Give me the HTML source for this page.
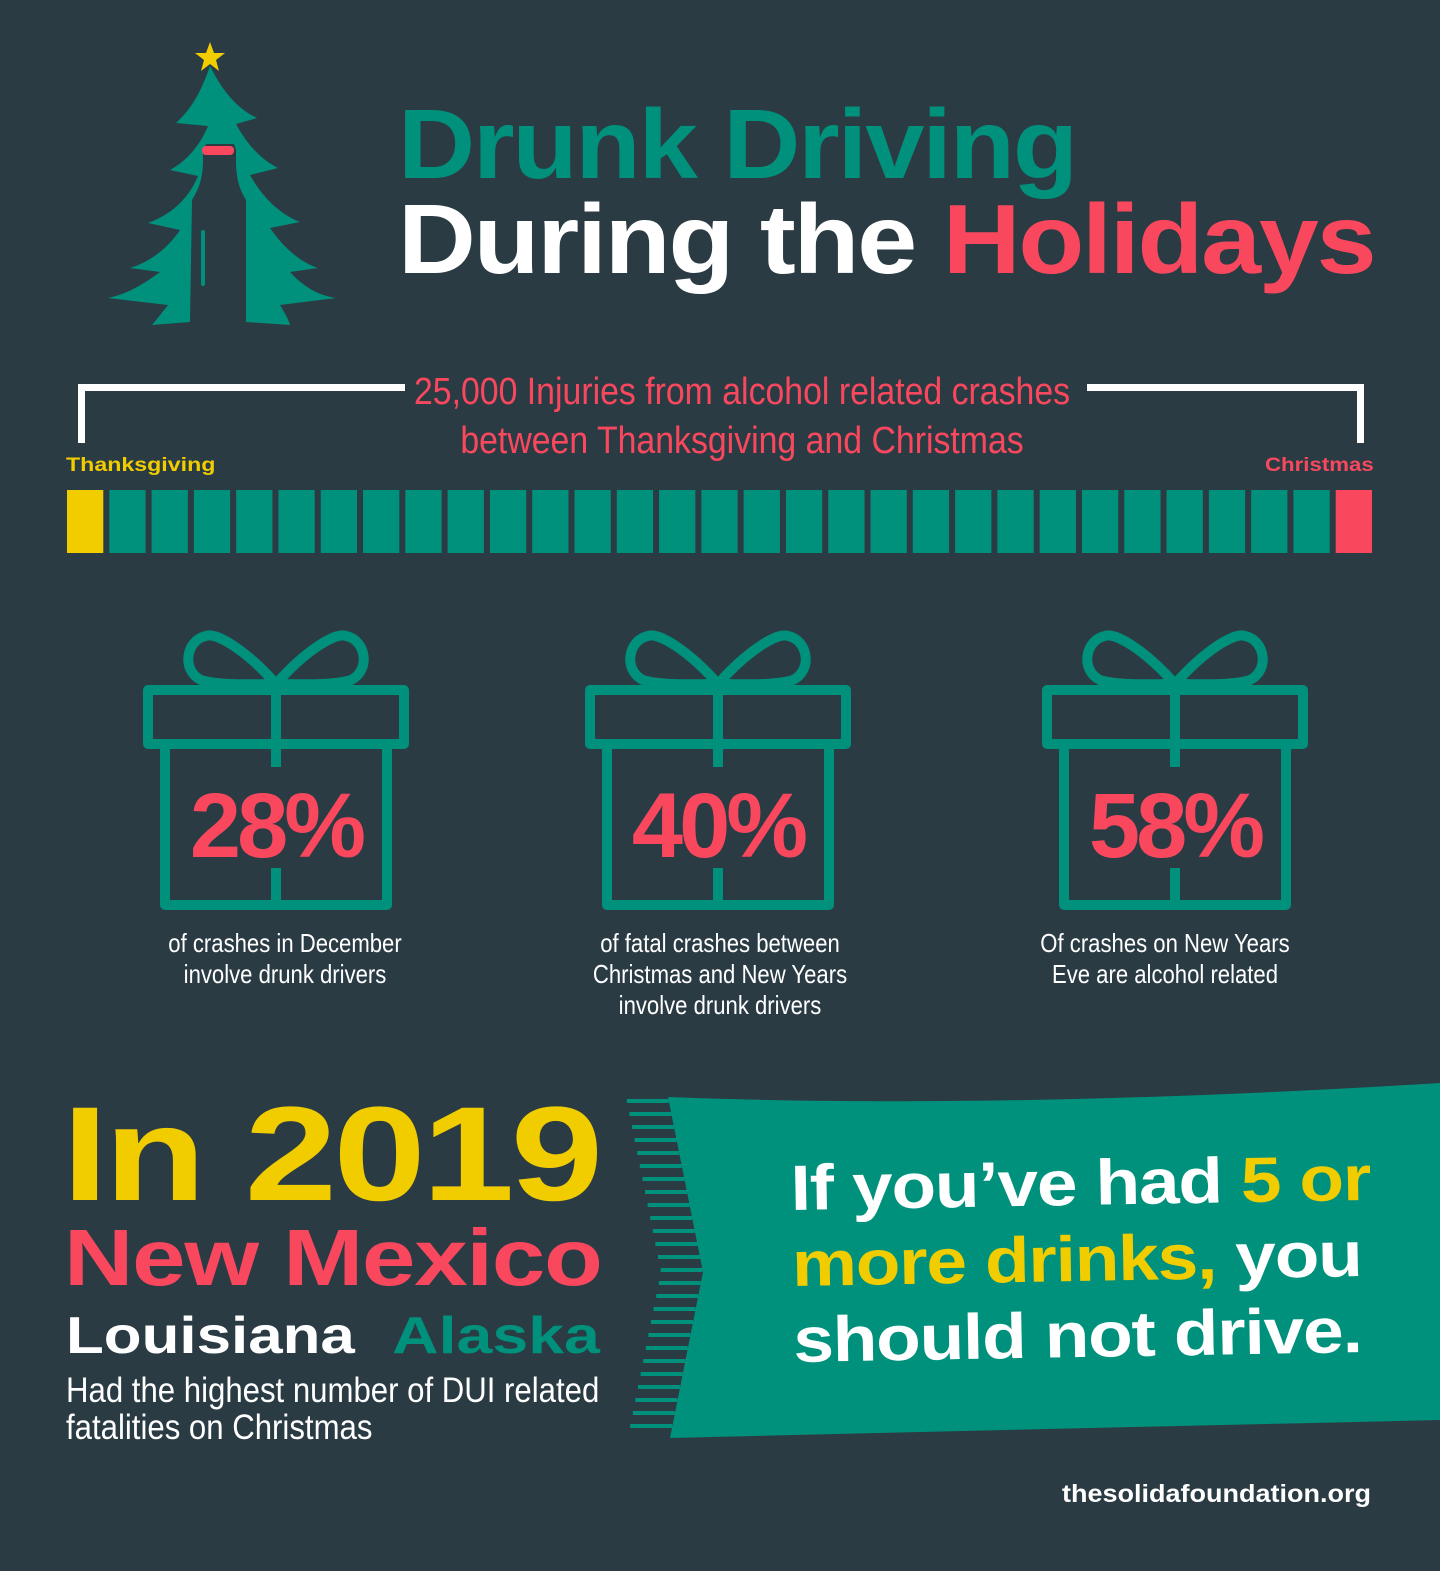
<!DOCTYPE html>
<html><head><meta charset="utf-8"><style>
html,body{margin:0;padding:0}
body{width:1440px;height:1571px;background:#2a3b44;position:relative;overflow:hidden;font-family:"Liberation Sans",sans-serif}
.t{position:absolute;white-space:nowrap;line-height:1;transform-origin:left top}
.h{font-weight:900;font-family:"Liberation Sans",sans-serif}
.n{font-family:"Liberation Sans",sans-serif;color:#fff}
</style></head><body>
<svg style="position:absolute;left:0;top:0" width="400" height="340">
<polygon points="210,42 214,53 225,53 216,60 219,71 210,64 201,71 204,60 195,53 206,53" fill="#f1cd00"/>
<path d="M210,66 C222,90 236,108 257,118 L236,124 C248,146 262,160 278,168 L250,175 C264,200 282,215 300,222 L270,228 C284,248 300,262 318,268 L290,272 C302,285 316,295 336,298 L280,305 C284,312 288,318 290,325 L246,322 L246,200 C240,190 236,180 236,160 L236,150 L234,144 L206,144 L203,150 L203,160 C203,180 198,190 192,200 L190,322 L152,325 C158,318 164,310 168,305 L108,298 C128,294 145,283 160,272 L130,268 C150,262 168,248 180,230 L148,223 C170,215 188,200 198,176 L170,170 C188,160 200,145 208,126 L176,123 C190,110 200,95 210,66 Z" fill="#00917c"/>
<rect x="202" y="146" width="32" height="9" rx="4" fill="#f9485e"/>
<rect x="201" y="230" width="4" height="56" rx="2" fill="#00917c"/>
</svg>
<div class="t h" style="left:398px;top:95px;font-size:98px;color:#00917c;letter-spacing:-2px;transform:scaleX(1.09)">Drunk Driving</div>
<div class="t h" style="left:398px;top:190px;font-size:98px;color:#fff;letter-spacing:-2px;transform:scaleX(1.1)">During the <span style="color:#f9485e">Holidays</span></div>

<div style="position:absolute;left:78px;top:384px;width:320px;height:52px;border-top:7px solid #fff;border-left:7px solid #fff"></div>
<div style="position:absolute;left:1087px;top:384px;width:270px;height:52px;border-top:7px solid #fff;border-right:7px solid #fff"></div>
<div class="t n" style="left:342px;width:800px;top:368px;text-align:center;font-size:38px;line-height:49px;color:#f9485e;transform:scaleX(0.89);transform-origin:center top">25,000 Injuries from alcohol related crashes<br>between Thanksgiving and Christmas</div>
<div class="t h" style="left:66px;top:456px;font-size:19px;color:#f1cd00;transform:scaleX(1.22)">Thanksgiving</div>
<div class="t h" style="left:1265px;top:456px;font-size:19px;color:#f9485e;transform:scaleX(1.17)">Christmas</div>
<svg id="bars" style="position:absolute;left:0;top:0" width="1440" height="600"></svg>

<svg id="gifts" style="position:absolute;left:0;top:0" width="1440" height="930"></svg>
<div class="t n" style="left:135px;width:300px;top:928px;text-align:center;font-size:26px;line-height:31px;transform:scaleX(0.85);transform-origin:center top">of crashes in December<br>involve drunk drivers</div>
<div class="t n" style="left:570px;width:300px;top:928px;text-align:center;font-size:26px;line-height:31px;transform:scaleX(0.85);transform-origin:center top">of fatal crashes between<br>Christmas and New Years<br>involve drunk drivers</div>
<div class="t n" style="left:1015px;width:300px;top:928px;text-align:center;font-size:26px;line-height:31px;transform:scaleX(0.85);transform-origin:center top">Of crashes on New Years<br>Eve are alcohol related</div>

<div class="t h" style="left:62px;top:1088px;font-size:134px;color:#f1cd00;letter-spacing:-3px;transform:scaleX(1.24)">In 2019</div>
<div class="t h" style="left:64px;top:1218px;font-size:80px;color:#f9485e;letter-spacing:-1px;transform:scaleX(1.2)">New Mexico</div>
<div class="t h" style="left:66px;top:1310px;font-size:52px;color:#fff;transform:scaleX(1.19)">Louisiana</div>
<div class="t h" style="left:392px;top:1310px;font-size:52px;color:#00917c;transform:scaleX(1.24)">Alaska</div>
<div class="t n" style="left:66px;top:1372px;font-size:35px;line-height:37px;transform:scaleX(0.89)">Had the highest number of DUI related<br>fatalities on Christmas</div>

<svg style="position:absolute;left:0;top:0" width="1440" height="1571">
<path d="M668,1097 Q1000,1110 1440,1083 L1440,1420 Q1000,1430 670,1438 L703,1272 Z" fill="#00917c"/>
<g id="fringe" stroke="#00917c" stroke-width="4"></g>
</svg>
<div class="t h" style="left:790px;top:1150px;font-size:64px;line-height:76px;color:#fff;letter-spacing:-1px;transform:rotate(-1deg) scaleX(1.14)">If you’ve had <span style="color:#f1cd00">5 or</span><br><span style="color:#f1cd00">more drinks,</span> you<br>should not drive.</div>
<div class="t h" style="left:1062px;top:1482px;font-size:25px;color:#fff;transform:scaleX(1.08)">thesolidafoundation.org</div>

<script>
const segmentTypes = ['start'].concat(Array(29).fill('day')).concat(['end']);
const giftValues = ['28%','40%','58%'];
const giftCenters = [276, 718, 1175];
const NS='http://www.w3.org/2000/svg';
const bars=document.getElementById('bars');
const x0=67,x1=1372,pitch=(x1-x0+6)/segmentTypes.length;
const colors={start:'#f1cd00',day:'#00917c',end:'#f9485e'};
segmentTypes.forEach((t,i)=>{
 const r=document.createElementNS(NS,'rect');
 r.setAttribute('x',x0+i*pitch);r.setAttribute('y',490);
 r.setAttribute('width',pitch-6);r.setAttribute('height',63);
 r.setAttribute('fill',colors[t]);
 
 
 bars.appendChild(r);
});
const g=document.getElementById('gifts');
giftCenters.forEach((cx,i)=>{
 const grp=document.createElementNS(NS,'g');
 
 
 grp.innerHTML=`<g fill="none" stroke="#00917c" stroke-width="10" stroke-linejoin="round">
 <rect x="${cx-128}" y="690" width="256" height="54"/>
 <rect x="${cx-111}" y="744" width="222" height="161"/>
 <line x1="${cx}" y1="690" x2="${cx}" y2="767"/><line x1="${cx}" y1="868" x2="${cx}" y2="905"/>
 <path d="M${cx},684 C${cx-30},650 ${cx-60},632 ${cx-70},636 C${cx-90},640 ${cx-95},670 ${cx-75},680 C${cx-55},686 ${cx-20},684 ${cx},684 C${cx+20},684 ${cx+55},686 ${cx+75},680 C${cx+95},670 ${cx+90},640 ${cx+70},636 C${cx+60},632 ${cx+30},650 ${cx},684Z"/></g>
 <text x="${cx}" y="857" text-anchor="middle" font-family="Liberation Sans" font-weight="900" font-size="92" letter-spacing="-4" fill="#f9485e">${giftValues[i]}</text>`;
 g.appendChild(grp);
});
const fr=document.getElementById('fringe');
for(let y=1101;y<1432;y+=13){
 const d=Math.abs(y-1272)/175; const ex=703-35*d;
 const l=document.createElementNS(NS,'line');
 l.setAttribute('x1',ex-42);l.setAttribute('x2',ex);l.setAttribute('y1',y);l.setAttribute('y2',y);
 fr.appendChild(l);
}
</script>
</body></html>
